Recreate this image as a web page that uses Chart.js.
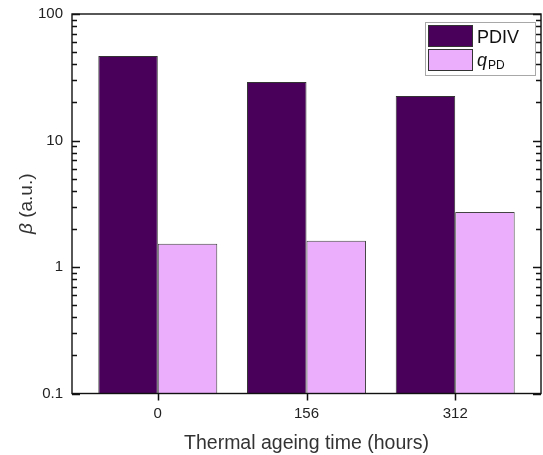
<!DOCTYPE html>
<html>
<head>
<meta charset="utf-8">
<script src="https://cdn.jsdelivr.net/npm/chart.js@4/dist/chart.umd.min.js"></script>
<style>
  html, body { margin: 0; padding: 0; background: #fff; }
  #wrap { width: 543px; height: 455px; }
</style>
</head>
<body>
<div id="wrap"><canvas id="chart"></canvas></div>
<script>
// data
var ageingHours = [0, 156, 312];
var pdivValues = [46.6, 29.0, 22.5];
var qpdValues = [1.53, 1.61, 2.72];
var yTickLabels = [0.1, 1, 10, 100];
var seriesNames = ['PDIV', 'q|PD'];   // "|" splits italic part and subscript
var seriesColors = ['#48005a', '#ebaefc'];

var FONT = '"Liberation Sans", Arial, sans-serif';
var INK = '#111';

function toPoints(values){
  return ageingHours.map(function(h, i){ return {x: h, y: values[i]}; });
}

function isDecade(v){
  var l = Math.log10(v);
  return Math.abs(l - Math.round(l)) < 1e-6;
}

// log ticks: every 1..9 multiple inside each decade
function logTicks(){
  var out = [];
  for (var d = 0; d < yTickLabels.length - 1; d++){
    for (var m = 1; m < 10; m++) out.push({value: +(yTickLabels[d] * m).toPrecision(3)});
  }
  out.push({value: yTickLabels[yTickLabels.length - 1]});
  return out;
}

// frame, tick marks, y title and legend drawn by hand
var decor = {
  id: 'decor',
  afterDraw: function(chart){
    var ctx = chart.ctx;
    var a = chart.chartArea;
    var ys = chart.scales.y, xs = chart.scales.x;
    ctx.save();
    ctx.strokeStyle = INK;
    ctx.lineWidth = 1.4;
    ctx.strokeRect(a.left, a.top, a.right - a.left, a.bottom - a.top);

    // tick marks, y inward on both sides, x outward
    ctx.lineWidth = 1.5;
    ctx.beginPath();
    logTicks().forEach(function(t){
      var y = Math.round(ys.getPixelForValue(t.value)) + 0.5;
      var len = isDecade(t.value) ? 8 : 5;
      ctx.moveTo(a.left, y); ctx.lineTo(a.left + len, y);
      ctx.moveTo(a.right, y); ctx.lineTo(a.right - len, y);
    });
    ageingHours.forEach(function(h){
      var x = Math.round(xs.getPixelForValue(h)) + 0.5;
      ctx.moveTo(x, a.bottom); ctx.lineTo(x, a.bottom + 7);
    });
    ctx.stroke();
    ctx.restore();

    // y title: italic beta + (a.u.)
    ctx.save();
    ctx.translate(27, (a.top + a.bottom) / 2);
    ctx.rotate(-Math.PI / 2);
    ctx.fillStyle = '#333';
    ctx.textBaseline = 'middle';
    ctx.font = 'italic 19px ' + FONT;
    var w1 = ctx.measureText('\u03B2').width;
    ctx.font = '19px ' + FONT;
    var w2 = ctx.measureText(' (a.u.)').width;
    var x0 = -(w1 + w2) / 2;
    ctx.font = 'italic 19px ' + FONT;
    ctx.textAlign = 'left';
    ctx.fillText('\u03B2', x0, 0);
    ctx.font = '19px ' + FONT;
    ctx.fillText(' (a.u.)', x0 + w1, 0);
    ctx.restore();

    // legend
    ctx.save();
    var bx = a.right - 116, by = a.top + 8;
    ctx.strokeStyle = '#a8a8a8';
    ctx.lineWidth = 1;
    ctx.strokeRect(bx + 0.5, by + 0.5, 110, 53);
    seriesNames.forEach(function(name, i){
      var sy = by + 3 + i * 24;
      ctx.fillStyle = seriesColors[i];
      ctx.fillRect(bx + 3.5, sy + 0.5, 44, 21);
      ctx.strokeStyle = '#333';
      ctx.strokeRect(bx + 3.5, sy + 0.5, 44, 21);
      ctx.fillStyle = '#111';
      ctx.textBaseline = 'alphabetic';
      ctx.textAlign = 'left';
      var parts = name.split('|');
      var tx = bx + 52, ty = sy + 18;
      if (parts.length === 1){
        ctx.font = '18px ' + FONT;
        ctx.fillText(parts[0], tx, ty);
      } else {
        ctx.font = 'italic 18px ' + FONT;
        ctx.fillText(parts[0], tx, ty - 1);
        var qw = ctx.measureText(parts[0]).width;
        ctx.font = '12px ' + FONT;
        ctx.fillText(parts[1], tx + qw + 1, ty + 2);
      }
    });
    ctx.restore();
  }
};

new Chart(document.getElementById('chart'), {
  type: 'bar',
  data: {
    datasets: [{
      label: 'PDIV',
      data: toPoints(pdivValues),
      backgroundColor: seriesColors[0],
      borderColor: '#333',
      borderWidth: 1
    }, {
      label: 'qPD',
      data: toPoints(qpdValues),
      backgroundColor: seriesColors[1],
      borderColor: '#444',
      borderWidth: 1
    }]
  },
  options: {
    responsive: true,
    maintainAspectRatio: false,
    animation: false,
    layout: { padding: { top: 14, right: 2, left: 0, bottom: 0 } },
    datasets: { bar: { categoryPercentage: 0.8, barPercentage: 1.0 } },
    plugins: {
      legend: { display: false },
      tooltip: { enabled: false }
    },
    scales: {
      x: {
        type: 'linear',
        offset: false,
        min: -90,
        max: 402,
        grid: { display: false, drawTicks: false },
        border: { display: false },
        afterBuildTicks: function(scale){
          scale.ticks = ageingHours.map(function(h){ return {value: h}; });
        },
        afterFit: function(scale){
          scale.height = 61.5;
          scale.paddingLeft = 0; scale.paddingRight = 0;
        },
        ticks: {
          color: '#222',
          padding: 11,
          font: { family: FONT, size: 15 },
          callback: function(v){ return String(v); }
        },
        title: {
          display: true,
          text: 'Thermal ageing time (hours)',
          color: '#333',
          font: { family: FONT, size: 19.5 },
          padding: { top: 0, bottom: 0 }
        }
      },
      y: {
        type: 'logarithmic',
        min: 0.1,
        max: 100,
        grid: { display: false, drawTicks: false },
        border: { display: false },
        afterBuildTicks: function(scale){ scale.ticks = logTicks(); },
        afterFit: function(scale){
          scale.width = 72;
          scale.paddingTop = 0; scale.paddingBottom = 0;
        },
        ticks: {
          autoSkip: false,
          color: '#222',
          padding: 9,
          font: { family: FONT, size: 15 },
          callback: function(v){
            if (!isDecade(v)) return '';
            var hit = yTickLabels.filter(function(t){ return Math.abs(t - v) < 1e-9; });
            return hit.length ? String(hit[0]) : '';
          }
        }
      }
    }
  },
  plugins: [decor]
});
</script>
</body>
</html>
